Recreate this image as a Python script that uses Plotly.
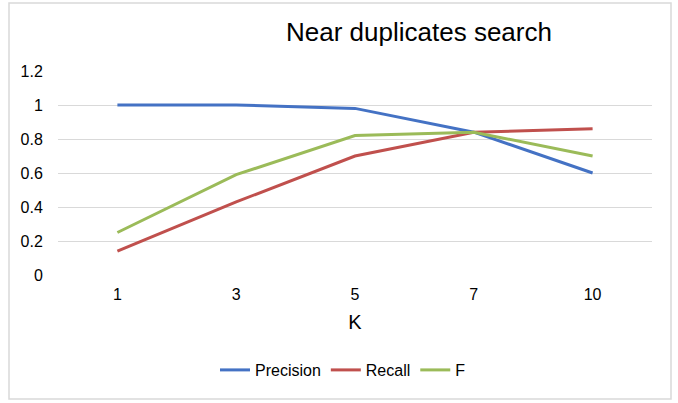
import plotly.graph_objects as go

k_labels = ["1", "3", "5", "7", "10"]
precision = [1.0, 1.0, 0.98, 0.84, 0.60]
recall = [0.14, 0.43, 0.70, 0.84, 0.86]
f_score = [0.25, 0.59, 0.82, 0.84, 0.70]

W, H = 678, 403
L, R, T, B = 58, 652, 71, 275

fig = go.Figure()
for name, vals, col in [("Precision", precision, "#4472C4"),
                        ("Recall", recall, "#C0504D"),
                        ("F", f_score, "#9BBB59")]:
    fig.add_trace(go.Scatter(x=k_labels, y=vals, mode="lines", name=name,
                             line=dict(color=col, width=3)))

font = "Liberation Sans, Arial, Helvetica, sans-serif"
fig.update_layout(
    width=W, height=H,
    margin=dict(l=L, r=W - R, t=T, b=H - B, autoexpand=False),
    paper_bgcolor="white", plot_bgcolor="white",
    font=dict(family=font, color="#000000", size=16),
    title=dict(text="Near duplicates search", x=419 / W, xref="container",
               xanchor="center", y=1 - 32 / H, yref="container", yanchor="middle",
               font=dict(size=26, color="#000000")),
    xaxis=dict(type="category", range=[-0.5, 4.5], showgrid=False, zeroline=False,
               showline=False, ticks="outside", ticklen=5, tickcolor="rgba(0,0,0,0)",
               tickfont=dict(size=16),
               title=dict(text="K", font=dict(size=20), standoff=12)),
    yaxis=dict(range=[0, 1.2], tickvals=[0, 0.2, 0.4, 0.6, 0.8, 1.0, 1.2],
               ticktext=["0", "0.2", "0.4", "0.6", "0.8", "1", "1.2"],
               showgrid=True, gridcolor="#d9d9d9", gridwidth=1, zeroline=False,
               showline=False, ticks="outside", ticklen=11, tickcolor="rgba(0,0,0,0)",
               tickfont=dict(size=16)),
    showlegend=True,
    legend=dict(orientation="h", x=343 / W, xref="container", xanchor="center",
                y=1 - 370 / H, yref="container", yanchor="middle",
                font=dict(size=16), itemwidth=30, tracegroupgap=0,
                bgcolor="rgba(0,0,0,0)"),
)

pw, ph = R - L, B - T
fig.add_shape(type="rect", xref="paper", yref="paper",
              x0=(9 - L) / pw, x1=(671 - L) / pw,
              y0=(B - 399) / ph, y1=(B - 3) / ph,
              line=dict(color="#d9d9d9", width=1.5), fillcolor="rgba(0,0,0,0)",
              layer="below")

fig.write_html("out.html", config={"displayModeBar": False},
               post_script="document.body.style.margin='0';document.body.style.overflow='hidden';")
